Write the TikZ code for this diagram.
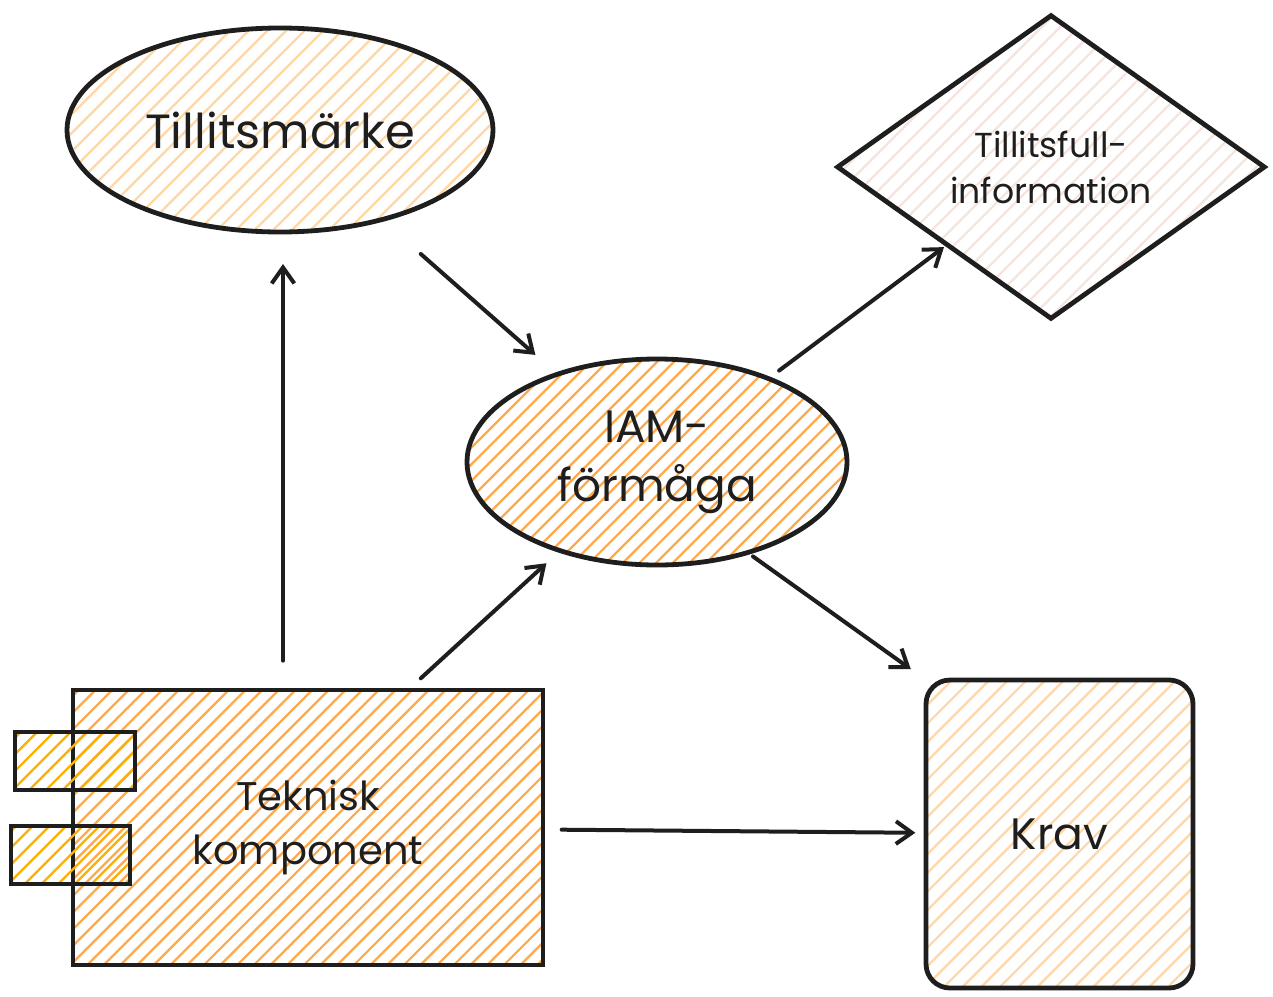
\documentclass[tikz,border=0pt]{standalone}
\usepackage{fontspec}
\setmainfont{Poppins}
\usetikzlibrary{shapes.geometric,arrows.meta,calc}
\definecolor{ink}{HTML}{1E1E1E}
\definecolor{lightor}{HTML}{FFD8A8}
\definecolor{midor}{HTML}{FFA94D}
\definecolor{yel}{HTML}{FAB005}
\definecolor{pinkish}{HTML}{F5E3DE}
\begin{document}
\begin{tikzpicture}[x=0.75pt,y=-0.75pt,
  hatch/.style 2 args={path picture={\foreach \k in {-40,...,40}{\draw[draw=#1,line width=1.7pt] ([shift={(\k*#2-300pt,-300pt)}]path picture bounding box.center) -- ++(600pt,600pt);}}},
  shapebase/.style={draw=ink, line width=3.6pt, inner sep=0pt, outer sep=0pt, text=ink, align=center},
  arr/.style={draw=ink, line width=3pt, line cap=round, -{Straight Barb[length=12pt,width=17pt,line width=3pt]}}
]
\useasboundingbox (0,0) rectangle (1273,996);

\node[shapebase, ellipse, minimum width=319.5pt, minimum height=153pt, hatch={lightor}{14pt},
      font=\fontsize{36pt}{43pt}\selectfont] (tm) at (280,130) {Tillitsmärke};

\node[shapebase, diamond, aspect=1.41, minimum width=320pt, minimum height=227pt, hatch={pinkish}{14pt},
      font=\fontsize{26pt}{34.5pt}\selectfont] (tf) at (1051,167) {Tillitsfull-\\information};

\node[shapebase, ellipse, minimum width=285pt, minimum height=154.5pt, hatch={midor}{12.5pt},
      font=\fontsize{34pt}{44pt}\selectfont] (iam) at (657,462) {IAM-\\förmåga};

\node[shapebase, rectangle, minimum width=352.5pt, minimum height=206.25pt, hatch={midor}{12.5pt},
      font=\fontsize{30pt}{41pt}\selectfont] (tek) at (308,827.5) {Teknisk\\komponent};

\node[shapebase, rectangle, minimum width=90pt, minimum height=43.5pt, hatch={yel}{12.5pt}] (p1) at (75,761) {};
\node[shapebase, rectangle, minimum width=89.25pt, minimum height=43.5pt, hatch={yel}{12.5pt}] (p2) at (70.5,855) {};

\node[shapebase, rectangle, rounded corners=18pt, minimum width=200.25pt, minimum height=231pt, hatch={lightor}{14pt},
      font=\fontsize{33pt}{40pt}\selectfont] (krav) at (1059.5,834) {Krav};

\draw[arr, shorten <=22pt, shorten >=24pt] ([xshift=-18.75pt]tek.north) -- ([xshift=2.25pt]tm.south);
\draw[arr, shorten <=39pt, shorten >=22pt] (tm) -- (iam);
\draw[arr, shorten <=13pt, shorten >=14pt] ([xshift=75pt]tek.north) -- (iam);
\draw[arr, shorten <=10pt, shorten >=3pt] (iam) -- (tf);
\draw[arr, shorten <=5pt, shorten >=14pt] (iam.-45) -- (krav.north west);
\draw[arr, shorten <=14pt, shorten >=8pt] (tek) -- (krav);
\end{tikzpicture}
\end{document}
